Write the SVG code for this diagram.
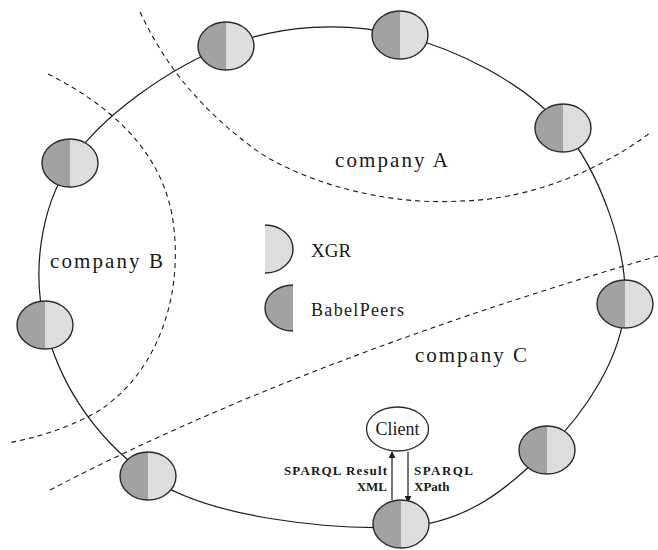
<svg xmlns="http://www.w3.org/2000/svg" width="658" height="550" viewBox="0 0 658 550">
<style>
.ring{fill:none;stroke:#1a1a1a;stroke-width:1.2}
.bound{fill:none;stroke:#1a1a1a;stroke-width:1.1;stroke-dasharray:5,4}
.dk{fill:#a2a2a2}
.lt{fill:#dddddd}
.ol{fill:none;stroke:#2a2a2a;stroke-width:1.4}
.lbl{font-family:"Liberation Serif","Times New Roman",serif;fill:#1a1a1a}
.big{font-size:21px}
.sm{font-size:13px;font-weight:bold}
.arr{stroke:#1a1a1a;stroke-width:1.2;fill:none}
</style>
<defs>
<marker id="ah" viewBox="0 0 10 10" refX="9" refY="5" markerWidth="7" markerHeight="7" orient="auto" markerUnits="userSpaceOnUse">
<path d="M0,0 L10,5 L0,10 Z" fill="#1a1a1a"/>
</marker>
<g id="peer">
<path class="dk" d="M0,-24 A28,24 0 0 0 0,24 Z"/>
<path class="lt" d="M0,-24 A28,24 0 0 1 0,24 Z"/>
<ellipse class="ol" cx="0" cy="0" rx="28" ry="24"/>
</g>
</defs>
<rect width="658" height="550" fill="#ffffff"/>
<g id="boundaries">
<path class="bound" d="M140,12 C165,65 200,110 260,153 C320,190 400,205 460,201 C530,200 600,170 650,133"/>
<path class="bound" d="M48,74 C110,105 160,150 172,215 C185,290 160,370 100,410 C70,428 35,438 8,443"/>
<path class="bound" d="M50,490 Q300,360 658,256"/>
</g>
<g id="connectors">
<path class="ring" d="M226,46 C281,24.7 343.8,21.3 400,35 C456.2,48.7 525.5,83.2 563,128 C600.5,172.8 627.7,250.3 625,304 C622.3,357.7 584.3,413.7 547,450 C509.7,486.3 467.5,524 401,527 C334.5,530 207.3,519 148,476 C88.7,433 58,377.2 45,325 C32,272.8 39.8,209.5 70,163 C100.2,116.5 170,67.3 226,46 Z"/>
<line class="arr" x1="392" y1="500" x2="392" y2="452" marker-end="url(#ah)"/>
<line class="arr" x1="408" y1="452" x2="408" y2="502" marker-end="url(#ah)"/>
</g>
<g id="peer1"><use href="#peer" x="226" y="46"/></g>
<g id="peer2"><use href="#peer" x="400" y="35"/></g>
<g id="peer3"><use href="#peer" x="563" y="128"/></g>
<g id="peer4"><use href="#peer" x="70" y="163"/></g>
<g id="peer5"><use href="#peer" x="45" y="325"/></g>
<g id="peer6"><use href="#peer" x="625" y="304"/></g>
<g id="peer7"><use href="#peer" x="547" y="450"/></g>
<g id="peer8"><use href="#peer" x="401" y="524"/></g>
<g id="peer9"><use href="#peer" x="148" y="476"/></g>
<g id="client">
<ellipse cx="397.5" cy="429" rx="31" ry="22" fill="#ffffff" stroke="#2a2a2a" stroke-width="1.3"/>
<text class="lbl" x="397.5" y="435" font-size="18" text-anchor="middle">Client</text>
</g>
<g id="legend">
<path class="lt" d="M265,225 A28,24 0 0 1 265,273 Z"/>
<path fill="none" stroke="#2a2a2a" stroke-width="1.4" d="M265,225 A28,24 0 0 1 265,273"/>
<text class="lbl" x="311" y="257" font-size="19">XGR</text>
<path class="dk" d="M293,285 A28,23 0 0 0 293,331 Z"/>
<path fill="none" stroke="#2a2a2a" stroke-width="1.4" d="M293,285 A28,23 0 0 0 293,331"/>
<text class="lbl" x="311" y="316" font-size="18" textLength="93">BabelPeers</text>
</g>
<g id="labels">
<text class="lbl big" x="335" y="167" textLength="113">company A</text>
<text class="lbl big" x="50" y="268" textLength="113">company B</text>
<text class="lbl big" x="415" y="362" textLength="112">company C</text>
<text class="lbl sm" x="284" y="475" textLength="103">SPARQL Result</text>
<text class="lbl sm" x="387" y="491" text-anchor="end">XML</text>
<text class="lbl sm" x="414" y="475" textLength="59">SPARQL</text>
<text class="lbl sm" x="414" y="491">XPath</text>
</g>
</svg>
